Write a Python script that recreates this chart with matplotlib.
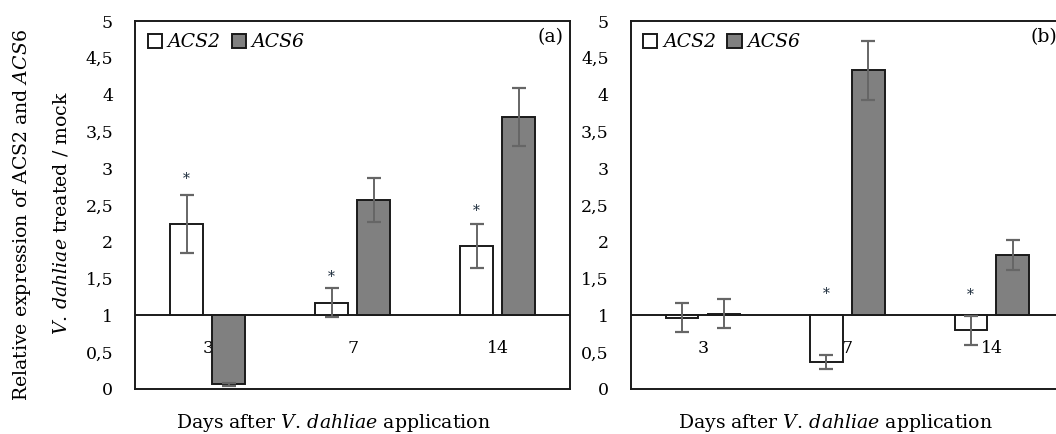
import numpy as np
import matplotlib
matplotlib.use("Agg")
import matplotlib.pyplot as plt
from matplotlib.patches import Patch

plt.rcParams['font.family'] = ['DejaVu Serif']
plt.rcParams['mathtext.fontset'] = 'custom'
plt.rcParams['mathtext.rm'] = 'DejaVu Serif'
plt.rcParams['mathtext.it'] = 'DejaVu Serif:italic'

# Data (relative expression, baseline = 1)
days = ["3", "7", "14"]

acs2_a = [2.24, 1.17, 1.945]
acs2_a_err = [0.40, 0.20, 0.30]
acs6_a = [0.06, 2.57, 3.695]
acs6_a_err = [0.02, 0.30, 0.40]
star_a = [2.85, 1.52, 2.41]

acs2_b = [0.965, 0.363, 0.794]
acs2_b_err = [0.195, 0.10, 0.20]
acs6_b = [1.02, 4.33, 1.82]
acs6_b_err = [0.20, 0.40, 0.20]
star_b = [None, 1.29, 1.27]

panels = [
    ("(a)", acs2_a, acs2_a_err, acs6_a, acs6_a_err, star_a),
    ("(b)", acs2_b, acs2_b_err, acs6_b, acs6_b_err, star_b),
]

fig = plt.figure(figsize=(10.56, 4.34), dpi=100)
W, H = 1056, 434
boxes = [(135.3, 570.0), (631.0, 1063.8)]
xlabel_x = [333.7, 835.5]

fs = 12.5      # ticks / category labels
fl = 13.6      # axis labels and legend
width = 0.225
off = 0.145
x = np.arange(len(days))
base = 1.0
vd = r"$\mathit{V.\,dahliae}$"

for k, (tag, a2, e2, a6, e6, st) in enumerate(panels):
    l, r = boxes[k]
    ax = fig.add_axes([l / W, (H - 388.7) / H, (r - l) / W, (388.7 - 21) / H])
    h2 = np.array(a2) - base
    h6 = np.array(a6) - base
    ax.bar(x - off, h2, width, bottom=base, color="white", edgecolor="#1a1a1a",
           linewidth=1.4, zorder=3)
    ax.bar(x + off, h6, width, bottom=base, color="#808080", edgecolor="#1a1a1a",
           linewidth=1.4, zorder=3)
    ax.errorbar(x - off, a2, yerr=e2, fmt="none", ecolor="#666666", elinewidth=1.4,
                capsize=5, capthick=1.6, zorder=4)
    ax.errorbar(x + off, a6, yerr=e6, fmt="none", ecolor="#666666", elinewidth=1.4,
                capsize=5, capthick=1.6, zorder=4)
    ax.axhline(base, color="#1a1a1a", linewidth=1.4, zorder=2)
    for i, s in enumerate(st):
        if s is not None:
            ax.text(x[i] - off, s, "*", ha="center", va="center", fontsize=10,
                    color="#1a2a3a", zorder=5)
    for i, d in enumerate(days):
        ax.text(x[i], 0.55, d, ha="center", va="center", fontsize=fs, zorder=1)

    ax.set_xlim(-0.5, 2.5)
    ax.set_ylim(0, 5)
    ax.set_yticks(np.arange(0, 5.01, 0.5))
    ax.set_yticklabels([("%g" % v).replace(".", ",") for v in np.arange(0, 5.01, 0.5)],
                       fontsize=fs)
    ax.set_xticks([])
    ax.tick_params(axis="y", length=0, pad=16)
    for sp in ax.spines.values():
        sp.set_linewidth(1.4)
        sp.set_color("#1a1a1a")

    ax.text(0.985, 0.955, tag, transform=ax.transAxes, ha="right", va="center",
            fontsize=fl)
    handles = [Patch(facecolor="white", edgecolor="#1a1a1a", linewidth=1.4),
               Patch(facecolor="#808080", edgecolor="#1a1a1a", linewidth=1.4)]
    ax.legend(handles, ["ACS2", "ACS6"], loc="upper left", ncol=2, frameon=False,
              prop={"family": "DejaVu Serif", "style": "italic", "size": fl},
              handlelength=0.75, handleheight=0.75, handletextpad=0.3,
              columnspacing=0.6, borderaxespad=0.25, bbox_to_anchor=(0.0, 1.0))

    fig.text(xlabel_x[k] / W, 1 - 423 / H, "Days after " + vd + " application",
             ha="center", va="center", fontsize=fl)

fig.text(21.7 / W, 1 - 215 / H, r"Relative expression of ACS2 and $\mathit{ACS6}$",
         rotation=90, ha="center", va="center", fontsize=fl)
fig.text(61 / W, 1 - 213.5 / H, vd + " treated / mock",
         rotation=90, ha="center", va="center", fontsize=fl)

fig.savefig("out.png", dpi=100)
